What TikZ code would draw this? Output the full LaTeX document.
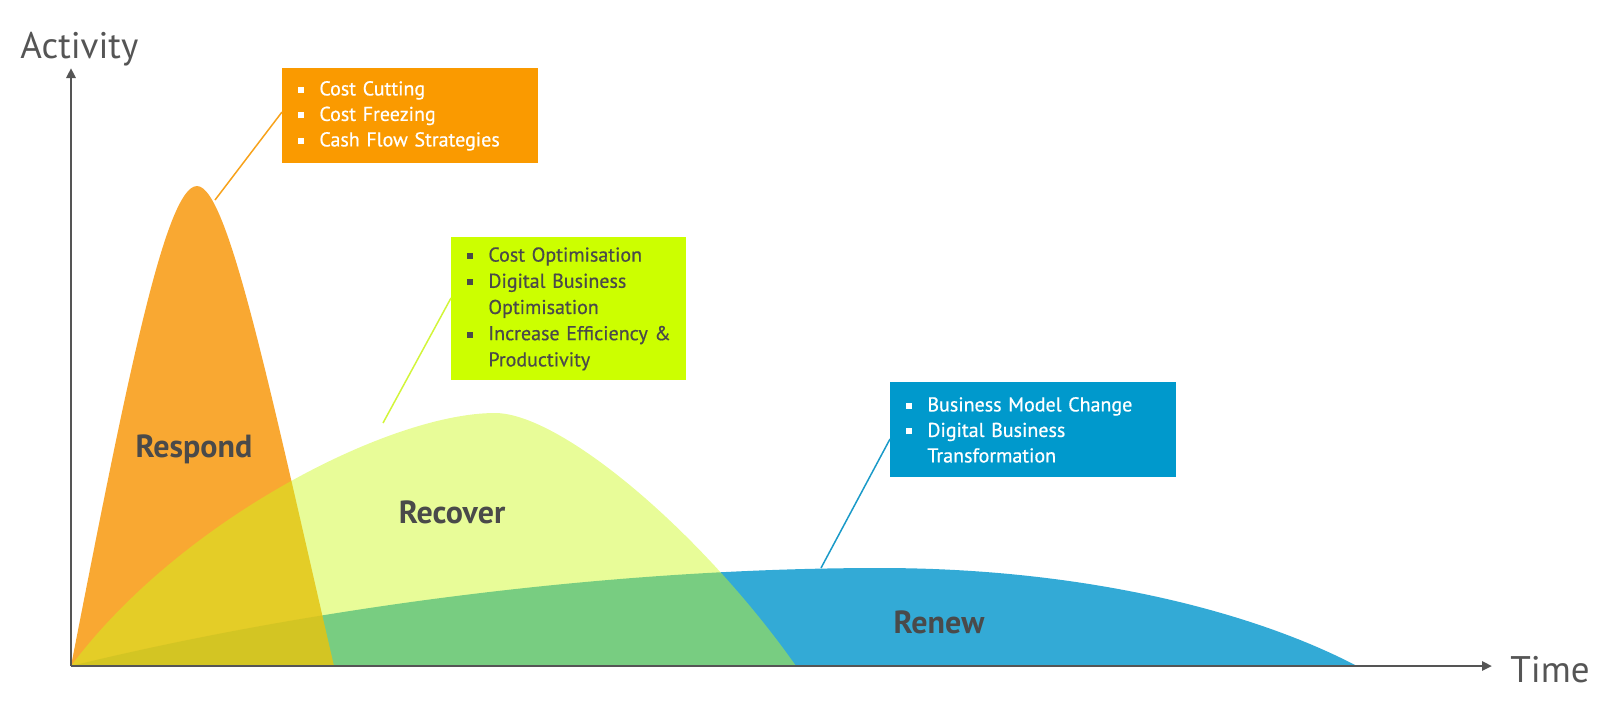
\documentclass[tikz,border=0pt]{standalone}
\usepackage{fontspec}
\setmainfont{PT Sans}
\newfontfamily\boxfont[RawFeature={embolden=0.6}]{PT Sans}
\usetikzlibrary{arrows.meta}
\definecolor{axisgray}{HTML}{555555}
\definecolor{labelgray}{HTML}{4A4A4A}
\definecolor{respondfill}{HTML}{F8990E}
\definecolor{recoverfill}{HTML}{CCF91B}
\definecolor{renewfill}{HTML}{33AAD6}
\definecolor{orangebox}{HTML}{FA9A00}
\definecolor{limebox}{HTML}{CCFF00}
\definecolor{bluebox}{HTML}{0099CC}
\definecolor{orangeline}{HTML}{F7A21B}
\definecolor{limeline}{HTML}{D2F53A}
\definecolor{blueline}{HTML}{1A9AC8}
\newcommand{\blt}{\makebox[10.5pt][l]{\rule[1.3pt]{3pt}{3pt}}}
\newcommand{\nob}{\hspace*{10.5pt}}
\newcommand{\boxline}[1]{\mbox{#1}}
\begin{document}
\begin{tikzpicture}[x=0.5pt,y=-0.5pt,
  infobox/.style={anchor=north west, inner xsep=8pt, inner ysep=0pt, align=left,
    font=\boxfont\fontsize{10}{12.75}\selectfont},
  connector/.style={line width=0.75pt},
  axisline/.style={draw=axisgray, line width=1.25pt, -{Triangle[length=5pt,width=4.5pt]}},
  phaselabel/.style={text=labelgray, font=\bfseries\fontsize{16}{19}\selectfont},
  axislabel/.style={text=axisgray, anchor=base west, inner sep=0pt, font=\fontsize{18.5}{22}\selectfont}]
\useasboundingbox (0,0) rectangle (1600,714);

% curves
\fill[renewfill] (71,666) .. controls (300,610) and (600,568) .. (880,568)
  .. controls (1080,568) and (1250,610) .. (1357,666) -- cycle;
\fill[respondfill, fill opacity=0.85] (71,666) .. controls (125,390) and (165,186) .. (197,186)
  .. controls (228,186) and (270,390) .. (334,666) -- cycle;
\fill[recoverfill, fill opacity=0.45] (71,666) .. controls (180,520) and (390,413) .. (495,413)
  .. controls (560,413) and (700,530) .. (796,666) -- cycle;

% boxes
\node[infobox, fill=orangebox, text=white, text width=112pt, minimum height=47.5pt] (ob) at (282,68)
  {\boxline{\blt Cost Cutting}\\ \boxline{\blt Cost Freezing}\\ \boxline{\blt Cash Flow Strategies}};
\node[infobox, fill=limebox, text=labelgray, text width=101.5pt, minimum height=71.5pt,
  font=\boxfont\fontsize{10}{13.1}\selectfont] (gb) at (451,237)
  {\boxline{\blt Cost Optimisation}\\ \boxline{\blt Digital Business}\\ \boxline{\nob Optimisation}\\ \boxline{\blt Increase Efficiency \&}\\ \boxline{\nob Productivity}};
\node[infobox, fill=bluebox, text=white, text width=127pt, minimum height=47.5pt] (bb) at (890,382)
  {\boxline{\blt Business Model Change}\\ \boxline{\blt Digital Business}\\ \boxline{\nob Transformation}};

% connectors
\coordinate (respondpeak) at (215,200);
\coordinate (recoverpt) at (383,423);
\coordinate (renewpt) at (821,568);
\draw[connector, orangeline] (ob.west |- 0,112) -- (respondpeak);
\draw[connector, limeline] (gb.west |- 0,298) -- (recoverpt);
\draw[connector, blueline] (bb.west |- 0,439) -- (renewpt);

% phase labels
\node[phaselabel] (respond) at (194,449) {Respond};
\node[phaselabel] (recover) at (452,512) {Recover};
\node[phaselabel] (renew) at (939,622) {Renew};

% axes
\coordinate (origin) at (71,666);
\coordinate (ytip) at (71,68);
\coordinate (xtip) at (1492,666);
\draw[axisline] (origin) -- (ytip);
\draw[axisline] (origin) -- (xtip);
\node[axislabel] (activity) at (20,58) {Activity};
\node[axislabel] (time) at (1510,682) {Time};
\end{tikzpicture}
\end{document}
